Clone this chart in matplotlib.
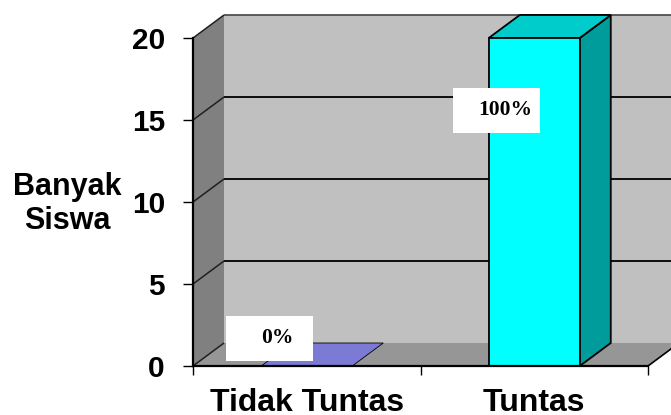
import matplotlib
matplotlib.use("Agg")
import matplotlib.pyplot as plt
from matplotlib.patches import Polygon, Rectangle

plt.rcParams["font.family"] = ["Liberation Sans", "DejaVu Sans"]

# ---- data ----
categories = ["Tidak Tuntas", "Tuntas"]
values = [0, 20]
y_ticks = [0, 5, 10, 15, 20]
y_label = "Banyak\nSiswa"

# ---- style / layout ----
front_colors = ["#9999ff", "#00ffff"]
side_colors = ["#6666cc", "#009c9c"]
top_colors = ["#7b7bd6", "#00cccc"]
label_y = [1.7, 15.6]          # vertical position of each value label (data units)
depth_px = (31, 23)            # 3-D depth offset in pixels (right, up)
bar_width = 0.4

W, H, DPI = 671, 415, 100
fig = plt.figure(figsize=(W / DPI, H / DPI), dpi=DPI)
ax = fig.add_axes([193 / W, (H - 366) / H, 455 / W, 328 / H])
ax.set_xlim(-0.5, 1.5)
ax.set_ylim(0, 20)
ax.patch.set_visible(False)

# pixel -> data unit conversion via the axes transform
inv = ax.transData.inverted()
x0, y0 = inv.transform(ax.transData.transform((0, 0)))
x1, y1 = inv.transform(ax.transData.transform((0, 0)) + [1, 1])
px_x, px_y = x1 - x0, y1 - y0
ddx, ddy = depth_px[0] * px_x, depth_px[1] * px_y

xl, xr = ax.get_xlim()
ytop = ax.get_ylim()[1]

# back wall
ax.add_patch(Rectangle((xl + ddx, ddy), (xr - xl), ytop, fc="#c0c0c0",
                       ec="none", zorder=0, clip_on=False))
# left side wall
ax.add_patch(Polygon([(xl, 0), (xl, ytop), (xl + ddx, ytop + ddy), (xl + ddx, ddy)],
                     closed=True, fc="#808080", ec="none", zorder=0.1, clip_on=False))
# floor
ax.add_patch(Polygon([(xl, 0), (xr, 0), (xr + ddx, ddy), (xl + ddx, ddy)],
                     closed=True, fc="#969696", ec="none", zorder=0.1, clip_on=False))
ax.plot([xr, xr + ddx], [0, ddy], color="black", lw=1.2, zorder=0.3, clip_on=False,
        solid_capstyle="butt")

# gridlines across back wall and side wall
for v in y_ticks:
    col = "#505050" if v == ytop else "black"
    if 0 < v:
        ax.plot([xl + ddx, xr + ddx], [v + ddy, v + ddy], color=col, lw=1.3,
                zorder=0.3, clip_on=False, solid_capstyle="butt")
    ax.plot([xl, xl + ddx], [v, v + ddy], color="#202020", lw=1.1,
            zorder=0.3, clip_on=False, solid_capstyle="butt")

# bars
total = sum(values)
for i, v in enumerate(values):
    l, r = i - bar_width / 2, i + bar_width / 2
    if v > 0:
        ax.add_patch(Rectangle((l, 0), bar_width, v, fc=front_colors[i], ec="black",
                               lw=1.3, zorder=3, clip_on=False))
        ax.add_patch(Polygon([(r, 0), (r, v), (r + ddx, v + ddy), (r + ddx, ddy)],
                             closed=True, fc=side_colors[i], ec="black", lw=1.3,
                             zorder=2.9, clip_on=False))
    ax.add_patch(Polygon([(l, v), (r, v), (r + ddx, v + ddy), (l + ddx, v + ddy)],
                         closed=True, fc=top_colors[i], ec="black",
                         lw=1.3 if v > 0 else 0.6, zorder=2.9, clip_on=False))

# value labels (percentage of total)
box_w, box_h = 87 * px_x, 45 * px_y
for i, v in enumerate(values):
    cx = i - 37.5 * px_x
    cy = label_y[i]
    ax.add_patch(Rectangle((cx - box_w / 2, cy - box_h / 2), box_w, box_h,
                           fc="white", ec="none", zorder=5, clip_on=False))
    ax.text(cx + 8 * px_x, cy, f"{v / total * 100:.0f}%", ha="center", va="center",
            fontsize=15.5, fontweight="bold", family=["Liberation Serif", "DejaVu Serif"],
            zorder=6)

# axes lines and ticks
for s in ["top", "right"]:
    ax.spines[s].set_visible(False)
for s in ["left", "bottom"]:
    ax.spines[s].set_linewidth(1.6)
    ax.spines[s].set_color("black")
    ax.spines[s].set_zorder(4)

ax.set_yticks(y_ticks)
ax.set_yticklabels([str(t) for t in y_ticks], fontsize=21.5, fontweight="bold")
ax.tick_params(axis="y", direction="out", length=7.2, width=1.0, pad=13)

ax.set_xticks(range(len(categories)))
ax.set_xticklabels(categories, fontsize=23, fontweight="bold")
ax.set_xticks([xl, 0.5, xr], minor=True)
ax.tick_params(axis="x", which="major", length=0, pad=16)
ax.tick_params(axis="x", which="minor", direction="out", length=6.5, width=1.0)

fig.text(67 / W, 1 - 204 / H, y_label, ha="center", va="center", fontsize=22,
         fontweight="bold", linespacing=1.15)

fig.savefig("out.png", dpi=DPI)
